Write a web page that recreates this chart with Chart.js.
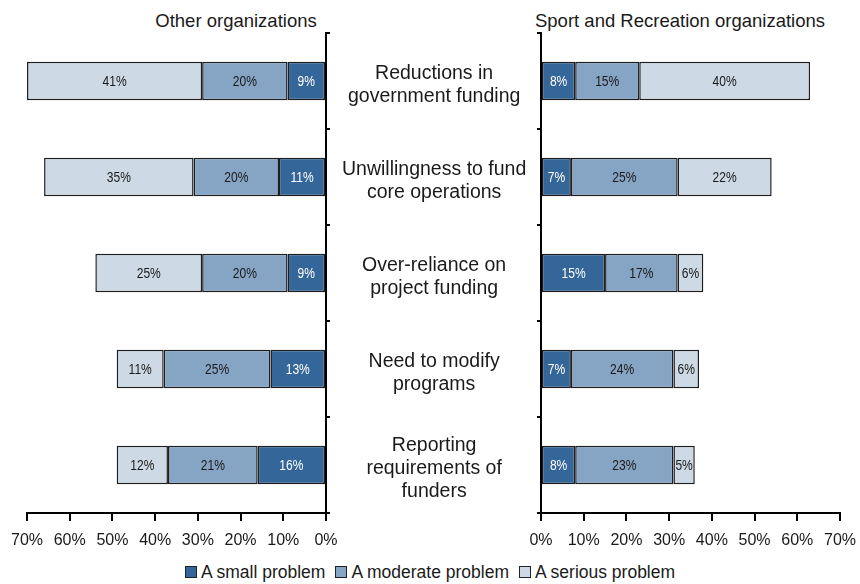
<!DOCTYPE html>
<html>
<head>
<meta charset="utf-8">
<script src="https://cdn.jsdelivr.net/npm/chart.js@4.4.1/dist/chart.umd.min.js"></script>
<style>
    html, body { margin: 0; padding: 0; background: #fff; }
    #wrap { position: relative; width: 860px; height: 584px; overflow: hidden;
            font-family: "Liberation Sans", Arial, Helvetica, sans-serif; color: #1a1a1a; }
    #left { position: absolute; left: 0; top: 0; }
    #right { position: absolute; left: 526px; top: 0; }
    .title { position: absolute; top: 11px; font-size: 18.5px; line-height: 19px;
             white-space: nowrap; transform: translateX(-50%); }
    #legend { position: absolute; left: 0; top: 562px; width: 860px; display: flex;
              justify-content: center; font-size: 17.5px; line-height: 20px; }
    .item { display: flex; align-items: center; margin: 0 5px; }
    .swatch { width: 10px; height: 10px; border: 1px solid #222; margin-right: 4px; }
</style>
</head>
<body>
<div id="wrap">
    <div class="title" style="left:236px">Other organizations</div>
    <div class="title" style="left:680px">Sport and Recreation organizations</div>
    <canvas id="left" width="541" height="560"></canvas>
    <canvas id="right" width="334" height="560"></canvas>
    <div id="legend"></div>
</div>
<script>
// categories, top to bottom
const categories = [
    ['Reductions in', 'government funding'],
    ['Unwillingness to fund', 'core operations'],
    ['Over-reliance on', 'project funding'],
    ['Need to modify', 'programs'],
    ['Reporting', 'requirements of', 'funders']
];

const seriesNames = ['A small problem', 'A moderate problem', 'A serious problem'];
const seriesColors = ['#346699', '#86a4c3', '#cdd9e4'];

// Other organizations (%)
const otherSmall = [9, 11, 9, 13, 16];
const otherModerate = [20, 20, 20, 25, 21];
const otherSerious = [41, 35, 25, 11, 12];

// Sport and Recreation organizations (%)
const sportSmall = [8, 7, 15, 7, 8];
const sportModerate = [15, 25, 17, 24, 23];
const sportSerious = [40, 22, 6, 6, 5];

const xTicks = [0, 10, 20, 30, 40, 50, 60, 70];

const SANS = '"Liberation Sans", Arial, Helvetica, sans-serif';
const INK = '#1a1a1a';

// writes the percentage in the middle of every segment (squeezed a bit, like a narrow face)
const barLabels = {
    id: 'barLabels',
    afterDatasetsDraw(chart) {
        const ctx = chart.ctx;
        chart.data.datasets.forEach((ds, i) => {
            chart.getDatasetMeta(i).data.forEach((bar, j) => {
                const p = bar.getCenterPoint();
                ctx.save();
                ctx.translate(p.x, p.y + 1);
                ctx.scale(0.86, 1);
                ctx.font = '14px ' + SANS;
                ctx.textAlign = 'center';
                ctx.textBaseline = 'middle';
                ctx.fillStyle = i === 0 ? '#ffffff' : INK;
                ctx.fillText(ds.data[j] + '%', 0, 0);
                ctx.restore();
            });
        });
    }
};

function makeDatasets(values) {
    return values.map((v, i) => ({
        label: seriesNames[i],
        data: v,
        backgroundColor: seriesColors[i],
        borderColor: '#1e1e1e',
        borderWidth: 1.5,
        borderSkipped: false,
        categoryPercentage: 1,
        barPercentage: 0.4
    }));
}

function makeChart(canvas, values, isLeft) {
    return new Chart(canvas, {
        type: 'bar',
        data: {
            labels: categories,
            datasets: makeDatasets(values)
        },
        options: {
            indexAxis: 'y',
            responsive: false,
            animation: false,
            layout: {
                padding: isLeft
                    ? { top: 33, left: 27, right: 0, bottom: 0 }
                    : { top: 33, left: 0, right: 20, bottom: 0 }
            },
            plugins: {
                legend: { display: false },
                tooltip: { enabled: false }
            },
            scales: {
                x: {
                    stacked: true,
                    reverse: isLeft,
                    min: 0,
                    max: 70,
                    afterBuildTicks(scale) {
                        scale.ticks = xTicks.map(v => ({ value: v }));
                    },
                    afterFit(scale) {
                        scale.height = 47;
                        scale.paddingLeft = 0;
                        scale.paddingRight = 0;
                    },
                    border: { display: true, color: '#000', width: 2 },
                    grid: { drawOnChartArea: false, drawTicks: true, tickLength: 8, color: '#000', lineWidth: 2 },
                    ticks: {
                        padding: 10,
                        color: INK,
                        font: { family: SANS, size: 16 },
                        callback: v => v + '%'
                    }
                },
                y: {
                    stacked: true,
                    position: isLeft ? 'right' : 'left',
                    afterFit(scale) {
                        scale.width = isLeft ? 215 : 15;
                        scale.paddingTop = 0;
                        scale.paddingBottom = 0;
                    },
                    border: { display: true, color: '#000', width: 2 },
                    grid: { drawOnChartArea: false, drawTicks: true, tickLength: 4, color: '#000', lineWidth: 2, offset: true },
                    ticks: {
                        display: isLeft,
                        crossAlign: 'center',
                        padding: 12,
                        labelOffset: 4,
                        color: INK,
                        font: { family: SANS, size: 19.5, lineHeight: 1.18 }
                    }
                }
            }
        },
        plugins: [barLabels]
    });
}

makeChart(document.getElementById('left'), [otherSmall, otherModerate, otherSerious], true);
makeChart(document.getElementById('right'), [sportSmall, sportModerate, sportSerious], false);

// legend built from the series names and colours
const legend = document.getElementById('legend');
seriesNames.forEach((name, i) => {
    const item = document.createElement('div');
    item.className = 'item';
    const sw = document.createElement('span');
    sw.className = 'swatch';
    sw.style.background = seriesColors[i];
    item.appendChild(sw);
    item.appendChild(document.createTextNode(name));
    legend.appendChild(item);
});
</script>
</body>
</html>
